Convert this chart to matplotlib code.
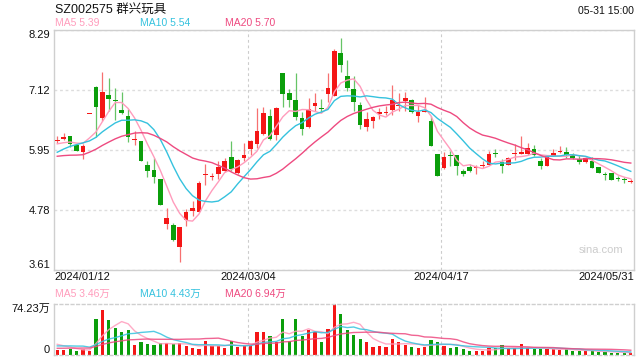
import numpy as np
import pandas as pd
import matplotlib
matplotlib.use('Agg')
import matplotlib.pyplot as plt
from matplotlib import transforms

plt.rcParams['font.family'] = ['Liberation Sans', 'Noto Sans CJK SC']

# daily candles, 2024/01/12 .. 2024/05/31 (90 trading days)
open_ = [6.13, 6.16, 6.22, 6.04, 5.92, 6.67, 7.17, 6.57, 7.02, 6.93,
         6.73, 6.61, 6.15, 6.13, 5.66, 5.56, 5.39, 4.51, 4.48, 4.05,
         4.58, 4.77, 4.75, 5.47, 5.43, 5.48, 5.55, 5.81, 5.50, 5.79,
         5.96, 6.07, 6.26, 6.61, 6.24, 7.45, 7.06, 6.93, 6.57, 6.39,
         6.81, 6.77, 7.05, 7.01, 7.84, 7.39, 7.13, 6.83, 6.39, 6.52,
         6.65, 6.68, 6.73, 6.81, 6.91, 6.92, 6.62, 6.70, 6.52, 5.87,
         5.59, 5.84, 5.85, 5.55, 5.61, 5.60, 5.64, 5.66, 5.89, 5.71,
         5.66, 5.88, 5.87, 5.87, 5.96, 5.73, 5.64, 5.83, 5.92, 5.92,
         5.86, 5.78, 5.71, 5.74, 5.61, 5.47, 5.50, 5.40, 5.38, 5.34]
close = [6.15, 6.21, 6.07, 5.94, 6.03, 6.67, 6.79, 7.08, 6.94, 6.90,
         6.67, 6.21, 6.16, 5.74, 5.55, 5.43, 4.88, 4.62, 4.20, 4.44,
         4.75, 4.81, 5.31, 5.48, 5.44, 5.61, 5.73, 5.57, 5.75, 5.85,
         6.13, 6.33, 6.67, 6.16, 6.77, 7.05, 6.93, 6.60, 6.35, 6.75,
         6.87, 6.76, 7.16, 7.88, 7.61, 7.15, 6.89, 6.43, 6.56, 6.59,
         6.69, 6.69, 6.92, 6.83, 6.96, 6.69, 6.69, 6.71, 6.03, 5.45,
         5.81, 5.83, 5.64, 5.48, 5.55, 5.61, 5.66, 5.87, 5.88, 5.63,
         5.79, 5.89, 5.92, 5.98, 5.86, 5.63, 5.82, 5.89, 5.93, 5.86,
         5.79, 5.72, 5.79, 5.59, 5.51, 5.46, 5.37, 5.39, 5.37, 5.35]
high = [6.22, 6.28, 6.23, 6.07, 6.07, 6.67, 7.19, 7.47, 7.35, 7.15,
        7.09, 6.75, 6.33, 6.13, 5.74, 5.79, 5.39, 4.82, 4.52, 4.44,
        4.80, 4.95, 5.34, 5.68, 5.50, 5.74, 5.79, 6.12, 5.77, 6.09,
        6.15, 6.77, 6.79, 6.75, 6.79, 7.45, 7.14, 7.45, 6.69, 6.96,
        7.07, 6.94, 7.45, 7.92, 8.13, 7.70, 7.39, 6.89, 6.69, 6.61,
        6.77, 6.80, 7.22, 7.07, 7.09, 6.94, 6.83, 6.98, 6.62, 5.87,
        5.91, 5.94, 5.85, 5.57, 5.68, 5.66, 5.73, 5.94, 5.96, 5.78,
        5.81, 6.07, 6.22, 6.08, 6.04, 5.79, 5.86, 5.97, 6.02, 6.01,
        5.90, 5.85, 5.83, 5.81, 5.62, 5.53, 5.51, 5.44, 5.42, 5.39]
low = [6.09, 6.15, 6.00, 5.94, 5.78, 6.67, 6.21, 6.52, 6.72, 6.54,
       6.66, 6.11, 6.04, 5.73, 5.42, 5.31, 4.87, 4.40, 4.18, 3.77,
       4.47, 4.66, 4.74, 5.27, 5.37, 5.39, 5.53, 5.55, 5.49, 5.73,
       5.86, 5.98, 6.24, 6.14, 6.15, 6.79, 6.79, 6.54, 6.24, 6.38,
       6.72, 6.69, 6.89, 7.00, 7.48, 7.11, 6.72, 6.35, 6.33, 6.38,
       6.56, 6.63, 6.63, 6.72, 6.72, 6.67, 6.50, 6.69, 6.03, 5.45,
       5.58, 5.63, 5.46, 5.45, 5.53, 5.48, 5.60, 5.65, 5.81, 5.51,
       5.65, 5.76, 5.87, 5.86, 5.83, 5.57, 5.63, 5.83, 5.90, 5.79,
       5.78, 5.68, 5.70, 5.59, 5.50, 5.36, 5.37, 5.35, 5.31, 5.30]
# volume in 万
volume = [7.3, 7.3, 8.8, 5.9, 8.8, 5.9, 52.7, 65.9, 51.3, 39.6,
          33.7, 36.6, 14.6, 19.0, 16.1, 14.6, 17.1, 17.1, 16.1, 17.1,
          13.2, 10.3, 9.3, 20.5, 13.2, 13.2, 10.3, 20.0, 11.7, 13.2,
          14.6, 33.7, 33.7, 27.8, 19.0, 52.7, 21.0, 52.7, 27.8, 36.6,
          34.2, 18.2, 38.3, 74.23, 59.0, 36.9, 29.5, 23.6, 18.2, 12.3,
          13.8, 12.3, 23.6, 18.2, 14.7, 11.8, 10.3, 12.3, 22.1, 18.2,
          13.8, 10.3, 11.8, 8.8, 5.9, 5.9, 5.9, 10.3, 10.3, 14.7,
          9.5, 9.5, 15.5, 9.5, 8.5, 8.5, 8.5, 8.5, 7.5, 9.0,
          5.5, 5.4, 5.6, 6.5, 4.0, 4.4, 3.3, 3.2, 3.2, 3.2]

# estimated days before the window, only so the moving averages start where the chart's do
warmup_close = [5.95, 5.92, 5.90, 5.88, 5.70, 5.62, 5.60, 5.62, 5.65, 5.66,
                5.58, 5.55, 5.60, 5.68, 6.30, 6.10, 6.00, 6.05, 6.05]
warmup_volume = [6.0, 6.0, 6.0, 6.0, 6.5, 6.5, 6.5, 6.5, 6.5, 7.0,
                 8.0, 8.0, 8.5, 9.0, 21.0, 18.0, 18.0, 17.0, 17.5]

tick_dates = ['2024/01/12', '2024/03/04', '2024/04/17', '2024/05/31']
tick_index = [0, 30, 60, 89]
price_ticks = [3.61, 4.78, 5.95, 7.12, 8.29]
vol_ticks = [0, 74.23]
vol_tick_labels = ['0', '74.23万']
ma_windows = [5, 10, 20]
ma_labels = ['MA5 5.39', 'MA10 5.54', 'MA20 5.70']
vol_ma_labels = ['MA5 3.46万', 'MA10 4.43万', 'MA20 6.94万']

RED, GREEN = '#f41616', '#0b9e0b'
RED_WICK, GREEN_WICK = '#f77070', '#66c466'
MA_COLORS = ['#ff9cbc', '#35c2de', '#ee4a80']
BORDER = '#cfcfcf'


def moving_avg(values, warmup, n):
    s = pd.Series(list(warmup) + list(values))
    return s.rolling(n, min_periods=1).mean().to_numpy()[len(warmup):]


W, H = 640, 360


def box(l, t, r, b):
    return [l / W, 1 - b / H, (r - l) / W, (b - t) / H]


fig = plt.figure(figsize=(6.4, 3.6), dpi=100)
ax = fig.add_axes(box(54, 30, 634, 270))
axv = fig.add_axes(box(54, 304, 634, 355))

o = np.array(open_)
c = np.array(close)
x = np.arange(len(c))
up = c >= o

# candles
ax.vlines(x, low, high, colors=np.where(up, RED_WICK, GREEN_WICK), linewidth=0.9, zorder=2)
body = np.abs(c - o)
body_h = np.maximum(body, 0.02)
body_bot = np.minimum(o, c) - (body_h - body) / 2
ax.bar(x, body_h, bottom=body_bot, width=0.72, color=np.where(up, RED, GREEN), linewidth=0, zorder=3)

for n, col in zip(ma_windows, MA_COLORS):
    ax.plot(x, moving_avg(close, warmup_close, n), color=col, linewidth=1.0, zorder=4)

grid_x = [tick_index[1] - 0.35, tick_index[2] - 0.4]

ax.set_xlim(-0.5, len(c) - 0.5)
ax.set_ylim(price_ticks[0], price_ticks[-1])
ax.set_yticks(price_ticks, labels=['%.2f' % p for p in price_ticks])
ax.set_xticks(grid_x, labels=['', ''])
ax.grid(axis='y', color='#dddddd', linestyle=(0, (2, 2)), linewidth=1.0)
ax.grid(axis='x', color='#cccccc', linestyle=(0, (2.5, 2.5)), linewidth=0.8)
ax.tick_params(length=0, pad=3, labelsize=8, labelcolor='#111111')
ylabels = ax.get_yticklabels()
ylabels[0].set_va('bottom')
ylabels[-1].set_va('top')
for sp in ax.spines.values():
    sp.set_color(BORDER)
    sp.set_linewidth(1.0)

ax.text(0.981, 0.085, 'sina.com', transform=ax.transAxes, ha='right', va='center',
        fontsize=8, color='#cccccc')

# date labels under the price panel
date_y = 1 - 277 / H
tr = transforms.blended_transform_factory(ax.transData, fig.transFigure)
tra = transforms.blended_transform_factory(ax.transAxes, fig.transFigure)
ax.text(0, date_y, tick_dates[0], transform=tra, ha='left', va='center', fontsize=8, color='#111111')
ax.text(grid_x[0], date_y, tick_dates[1], transform=tr, ha='center', va='center', fontsize=8, color='#111111')
ax.text(grid_x[1], date_y, tick_dates[2], transform=tr, ha='center', va='center', fontsize=8, color='#111111')
ax.text(1, date_y, tick_dates[3], transform=tra, ha='right', va='center', fontsize=8, color='#111111')

# volume panel
axv.bar(x, volume, width=0.5, color=np.where(up, RED, GREEN), linewidth=0, zorder=2)
for n, col in zip(ma_windows, MA_COLORS):
    axv.plot(x, moving_avg(volume, warmup_volume, n), color=col, linewidth=1.0, alpha=0.85, zorder=3)
axv.set_xlim(-0.5, len(c) - 0.5)
axv.set_ylim(vol_ticks[0], vol_ticks[-1])
axv.set_yticks(vol_ticks, labels=vol_tick_labels)
axv.set_xticks(grid_x, labels=['', ''])
axv.grid(axis='x', color='#cccccc', linestyle=(0, (2.5, 2.5)), linewidth=0.8)
axv.tick_params(length=0, pad=3, labelsize=8, labelcolor='#111111')
vlabels = axv.get_yticklabels()
vlabels[0].set_va('bottom')
vlabels[-1].set_va('top')
for name, sp in axv.spines.items():
    sp.set_color(BORDER)
    sp.set_linewidth(1.0)
    if name in ('top', 'bottom'):
        sp.set_linestyle((0, (2, 2)))

# header texts
fig.text(55 / W, 1 - 10 / H, 'SZ002575 群兴玩具', ha='left', va='center', fontsize=9, color='#111111')
fig.text(634 / W, 1 - 11 / H, '05-31 15:00', ha='right', va='center', fontsize=7.6, color='#111111')
for lx, lab, col in zip([55, 140, 225], ma_labels, MA_COLORS):
    fig.text(lx / W, 1 - 23 / H, lab, ha='left', va='center', fontsize=7.5, color=col)
for lx, lab, col in zip([55, 140, 225], vol_ma_labels, MA_COLORS):
    fig.text(lx / W, 1 - 294 / H, lab, ha='left', va='center', fontsize=7.5, color=col)

fig.savefig('out.png', dpi=100)
